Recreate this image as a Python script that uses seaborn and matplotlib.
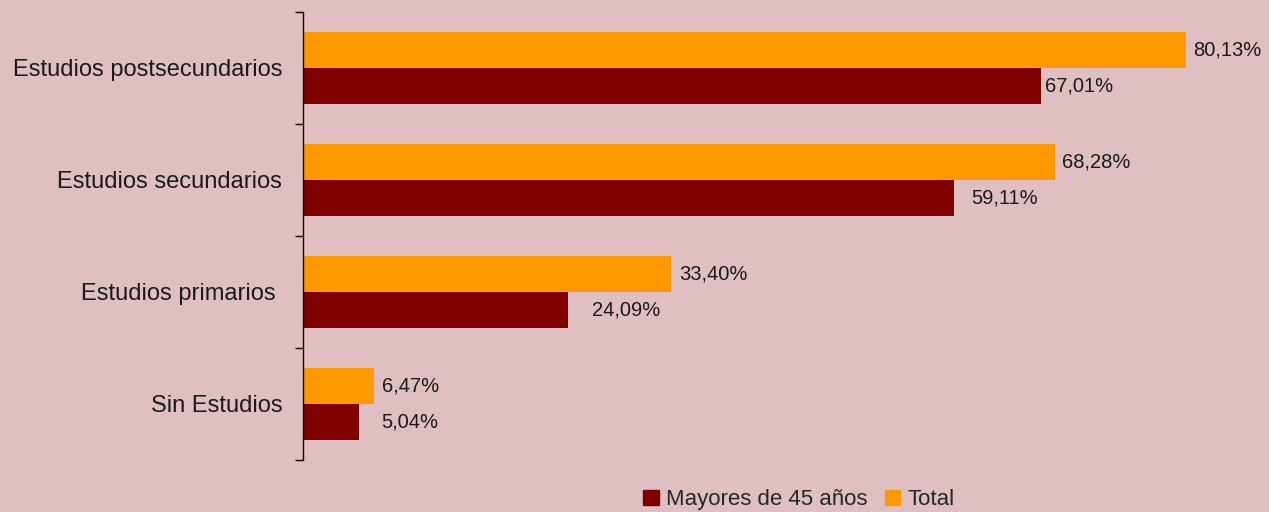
import pandas as pd
import seaborn as sns
import matplotlib.pyplot as plt
from matplotlib.patches import Patch
from matplotlib.ticker import FixedLocator

# data
categories = ["Estudios postsecundarios", "Estudios secundarios", "Estudios primarios ", "Sin Estudios"]
total = [80.13, 68.28, 33.40, 6.47]
mayores = [67.01, 59.11, 24.09, 5.04]
series_names = ["Total", "Mayores de 45 años"]

bg = "#dfbfc2"
colors = {"Total": "#ff9900", "Mayores de 45 años": "#800000"}
# gap between bar end and its label, in pixels (as in the original)
pad_total = [8, 7, 8, 8]
pad_mayores = [4, 17, 24, 23]

df = pd.DataFrame({
    "categoria": categories * 2,
    "valor": total + mayores,
    "serie": [series_names[0]] * 4 + [series_names[1]] * 4,
})

sns.set_style("white")
plt.rcParams["font.family"] = ["Liberation Sans", "DejaVu Sans"]

fig = plt.figure(figsize=(12.69, 5.12), dpi=100, facecolor=bg)
ax = fig.add_axes([0.2388, 0.1016, 0.7612, 0.875])
ax.set_facecolor(bg)

sns.barplot(data=df, y="categoria", x="valor", hue="serie", hue_order=series_names,
            palette=colors, orient="h", width=0.643, gap=0, ax=ax, legend=False,
            saturation=1, linewidth=0)

ax.set_xlim(0, 87.7)
ax.set_ylim(3.5, -0.5)
ax.set_xlabel("")
ax.set_ylabel("")
ax.set_xticks([])

for s in ["top", "right", "bottom"]:
    ax.spines[s].set_visible(False)
ax.spines["left"].set_color("black")
ax.spines["left"].set_linewidth(1.0)

ax.tick_params(axis="y", which="major", length=0, pad=15, labelsize=17, colors="#1a1a1a")
ax.yaxis.set_minor_locator(FixedLocator([-0.5, 0.5, 1.5, 2.5, 3.5]))
ax.tick_params(axis="y", which="minor", length=6, width=1, color="black", left=True)

# value labels
for cont, vals, pads in zip(ax.containers, [total, mayores], [pad_total, pad_mayores]):
    for bar, v, p in zip(cont, vals, pads):
        y = bar.get_y() + bar.get_height() / 2
        ax.annotate(f"{v:.2f}%".replace(".", ","), (bar.get_width(), y),
                    xytext=(p * 0.72, 0), textcoords="offset points",
                    va="center", ha="left", fontsize=14.5, color="#1a1a1a")

handles = [Patch(color=colors["Mayores de 45 años"], label="Mayores de 45 años"),
           Patch(color=colors["Total"], label="Total")]
fig.legend(handles=handles, loc="center left", bbox_to_anchor=(0.507, 0.024), ncol=2,
           frameon=False, fontsize=16, handlelength=0.7, handleheight=0.7,
           handletextpad=0.3, columnspacing=0.8, borderaxespad=0, borderpad=0)

fig.savefig("out.png", dpi=100, facecolor=bg)
